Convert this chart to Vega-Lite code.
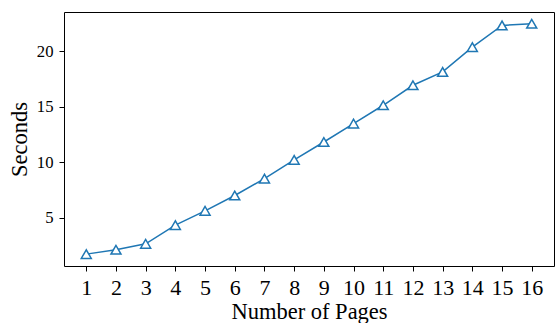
{
  "$schema": "https://vega.github.io/schema/vega-lite/v6.json",
  "autosize": {"type": "none"},
  "padding": {"left": 64, "top": 12, "right": 1, "bottom": 57},
  "width": 490,
  "height": 254,
  "background": "white",
  "config": {
    "view": {"stroke": "black", "strokeWidth": 1},
    "font": "Liberation Serif",
    "axis": {
      "grid": false,
      "domain": false,
      "tickColor": "black",
      "tickSize": 5,
      "tickWidth": 1,
      "labelColor": "black",
      "titleColor": "black",
      "labelFont": "Liberation Serif",
      "titleFont": "Liberation Serif",
      "titleFontWeight": "normal",
      "labelPadding": 6
    }
  },
  "data": {
    "values": [
      {"pages": 1, "seconds": 1.73},
      {"pages": 2, "seconds": 2.12},
      {"pages": 3, "seconds": 2.66},
      {"pages": 4, "seconds": 4.34},
      {"pages": 5, "seconds": 5.63},
      {"pages": 6, "seconds": 7.01},
      {"pages": 7, "seconds": 8.53},
      {"pages": 8, "seconds": 10.22},
      {"pages": 9, "seconds": 11.83},
      {"pages": 10, "seconds": 13.49},
      {"pages": 11, "seconds": 15.14},
      {"pages": 12, "seconds": 16.94},
      {"pages": 13, "seconds": 18.14},
      {"pages": 14, "seconds": 20.38},
      {"pages": 15, "seconds": 22.33},
      {"pages": 16, "seconds": 22.48}
    ]
  },
  "encoding": {
    "x": {
      "field": "pages",
      "type": "quantitative",
      "scale": {"domain": [0.25, 16.75], "nice": false, "zero": false},
      "axis": {
        "title": "Number of Pages",
        "values": [1,2,3,4,5,6,7,8,9,10,11,12,13,14,15,16],
        "labelFontSize": 22,
        "titleFontSize": 22.5,
        "labelFlush": false,
        "labelOverlap": false,
        "titleBaseline": "alphabetic",
        "titleY": 52
      }
    },
    "y": {
      "field": "seconds",
      "type": "quantitative",
      "scale": {"domain": [0.66, 23.54], "nice": false, "zero": false},
      "axis": {
        "title": "Seconds",
        "values": [5, 10, 15, 20],
        "labelFontSize": 16.7,
        "titleFontSize": 22.5,
        "labelFlush": false,
        "titleBaseline": "alphabetic",
        "titleX": -38,
        "titleY": 127
      }
    }
  },
  "layer": [
    {"mark": {"type": "line", "color": "#1f77b4", "strokeWidth": 1.5}},
    {"mark": {"type": "point", "shape": "triangle-up", "size": 100, "filled": true, "fill": "white", "stroke": "#1f77b4", "strokeWidth": 1.5, "opacity": 1}}
  ]
}
